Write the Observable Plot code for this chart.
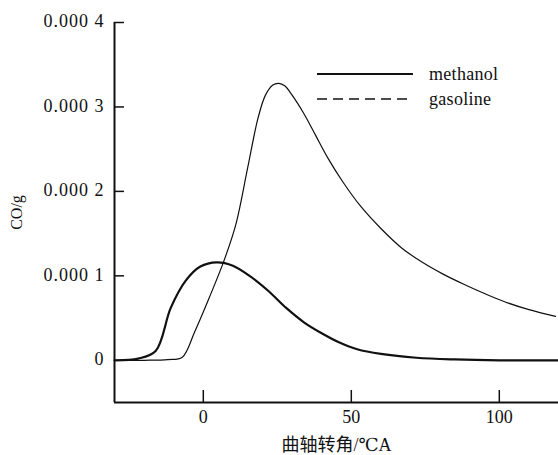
<!DOCTYPE html>
<html>
<head>
<meta charset="utf-8">
<script src="https://cdn.jsdelivr.net/npm/d3@7"></script>
<script src="https://cdn.jsdelivr.net/npm/@observablehq/plot@0.6"></script>
<style>
  body { margin: 0; background: #fff; }
  #wrap { position: relative; width: 558px; height: 455px; }
  #legend { position: absolute; left: 0; top: 0; width: 558px; height: 455px; pointer-events: none; }
</style>
</head>
<body>
<div id="wrap"></div>
<script>
// ---- data ----
const seriesNames = ["methanol", "gasoline"];
const methanolAngle = [-30, -22, -16.1, -11, -6, -1, 4.5, 10, 16, 22, 28, 34, 40, 46, 52, 60, 72, 85, 100, 120];
const methanolCO   = [0, 0.000002, 0.000011, 0.000062, 0.000094, 0.000111, 0.000116, 0.000112, 0.000099, 0.000082, 0.000062, 0.000045, 0.000032, 0.000021, 0.000013, 0.0000075, 0.000003, 0.000001, 0, 0];
const gasolineAngle = [-30, -20, -12, -7.1, -3, 2, 7, 11, 15, 18.5, 21, 23.5, 25.5, 27.5, 30, 34, 38, 42, 47, 53, 60, 67, 74, 81, 88, 95, 102, 110, 119];
const gasolineCO    = [0, 0, 0.0000008, 0.0000037, 0.000033, 0.000074, 0.000118, 0.000161, 0.000228, 0.000287, 0.000314, 0.000326, 0.000328, 0.000325, 0.000314, 0.000292, 0.000266, 0.00024, 0.000212, 0.000183, 0.000156, 0.000133, 0.000116, 0.000102, 0.00009, 0.000079, 0.000069, 0.00006, 0.000052];
const xDomain = [-30, 120];
const yDomain = [-0.00005, 0.0004];
const xTickVals = [0, 50, 100];
const xTickLabels = ["0", "50", "100"];
const yTickVals = [0, 0.0001, 0.0002, 0.0003, 0.0004];
const yTickLabels = ["0", "0.000 1", "0.000 2", "0.000 3", "0.000 4"];
const xLabel = "曲轴转角/℃A";
const yLabel = "CO/g";

const methanol = methanolAngle.map((a, i) => ({a, v: methanolCO[i]}));
const gasoline = gasolineAngle.map((a, i) => ({a, v: gasolineCO[i]}));

const FONT = '"Times New Roman", "Liberation Serif", "DejaVu Serif", "Noto Sans CJK SC", serif';

const chart = Plot.plot({
  width: 558,
  height: 455,
  marginLeft: 114,
  marginRight: 0,
  marginTop: 22,
  marginBottom: 53,
  style: {fontFamily: FONT, fontSize: "18px", color: "#111", background: "#fff"},
  x: {domain: xDomain, range: [114, 558]},
  y: {domain: yDomain},
  marks: [
    Plot.ruleX([xDomain[0]], {y1: yDomain[0], y2: yDomain[1], stroke: "#111", strokeWidth: 2}),
    Plot.ruleY([yDomain[0]], {x1: xDomain[0], x2: xDomain[1], stroke: "#111", strokeWidth: 2}),
    Plot.axisY(yTickVals.slice(1), {tickSize: -10, tickFormat: () => "", label: null, stroke: "#111", strokeWidth: 1.5}),
    Plot.axisY(yTickVals, {tickSize: 0, tickPadding: 10, tickFormat: d => yTickLabels[yTickVals.indexOf(d)], label: null, dy: -1, fill: "#111"}),
    Plot.axisY([], {label: yLabel, labelAnchor: "center", labelOffset: 104, fontSize: 16, labelArrow: "none", fill: "#111"}),
    Plot.axisX(xTickVals, {tickSize: -12, tickFormat: () => "", label: null, stroke: "#111", strokeWidth: 1.5}),
    Plot.axisX(xTickVals, {tickSize: 0, tickPadding: 8, tickFormat: d => xTickLabels[xTickVals.indexOf(d)], label: null, fill: "#111"}),
    Plot.axisX([], {label: xLabel, labelAnchor: "center", labelOffset: 48, labelArrow: "none", fill: "#111"}),
    Plot.line(gasoline, {x: "a", y: "v", stroke: "#111", strokeWidth: 1.2, curve: "catmull-rom"}),
    Plot.line(methanol, {x: "a", y: "v", stroke: "#111", strokeWidth: 2.2, curve: "catmull-rom"})
  ]
});
const wrap = document.getElementById("wrap");
wrap.appendChild(chart);
// wider glyph spacing for y tick labels, as in the reference
d3.select(chart).selectAll('g[aria-label="y-axis tick label"] text').attr("letter-spacing", "1px");

// legend overlay
const leg = d3.select(wrap).append("svg").attr("id", "legend").attr("width", 558).attr("height", 455);
const legendStyles = [{w: 2.2, dash: null}, {w: 1.4, dash: "10,6"}];
seriesNames.forEach((name, i) => {
  const y = 74 + i * 25;
  leg.append("line").attr("x1", 317).attr("x2", 413).attr("y1", y).attr("y2", y)
    .attr("stroke", "#111").attr("stroke-width", legendStyles[i].w)
    .attr("stroke-dasharray", legendStyles[i].dash);
  leg.append("text").attr("x", 429).attr("y", y).attr("dy", "0.32em")
    .attr("font-size", 18).attr("fill", "#111").attr("letter-spacing", "0.3px")
    .attr("font-family", FONT).text(name);
});
</script>
</body>
</html>
